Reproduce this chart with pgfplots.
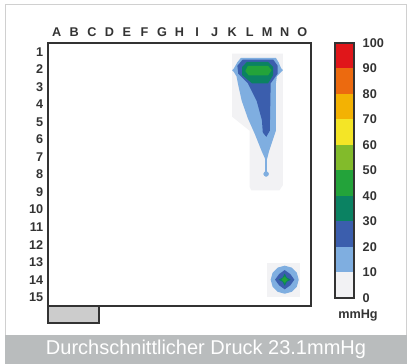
\documentclass[border=0pt]{standalone}
\usepackage{pgfplots}
\pgfplotsset{compat=1.18}
\usepackage{fontspec}
\setmainfont{Liberation Sans}

\definecolor{c0}{HTML}{F2F2F4}
\definecolor{c1}{HTML}{7FAEE0}
\definecolor{c2}{HTML}{3B5EAD}
\definecolor{c3}{HTML}{0B8262}
\definecolor{c4}{HTML}{23A33A}
\definecolor{c5}{HTML}{82BB2B}
\definecolor{c6}{HTML}{F4E526}
\definecolor{c7}{HTML}{F3B203}
\definecolor{c8}{HTML}{EC6A0F}
\definecolor{c9}{HTML}{E0161A}
\definecolor{labelgray}{HTML}{333333}
\definecolor{framegray}{HTML}{D0D0D0}
\definecolor{bandgray}{HTML}{B9BCBD}

\pgfplotsset{
  mapfont/.style={font=\fontsize{9.5}{11}\selectfont\bfseries, text=labelgray},
}

\begin{document}
\begin{tikzpicture}[x=0.75pt,y=0.75pt]
\path[use as bounding box, fill=white] (0,0) rectangle (407,364);
% frame and footer band
\draw[framegray, line width=0.75pt] (5,29) -- (5,359) -- (406,359) -- (406,29);
\fill[bandgray] (5,0) rectangle (407,29);
\node[text=white, font=\fontsize{15}{18}\selectfont] at (206,15) {Durchschnittlicher Druck 23.1mmHg};

% pressure map
\begin{axis}[
  at={(36pt,43.5pt)}, anchor=south west,
  scale only axis, width=197.25pt, height=197.25pt,
  xmin=0, xmax=15, ymin=0, ymax=15, y dir=reverse,
  axis on top,
  axis line style={draw=labelgray, line width=1.1pt},
  xtick={0.5,1.5,...,14.5},
  xticklabels={A,B,C,D,E,F,G,H,I,J,K,L,M,N,O},
  ytick={0.5,1.5,...,14.5},
  yticklabels={1,2,3,4,5,6,7,8,9,10,11,12,13,14,15},
  xticklabel pos=upper,
  major tick length=0pt,
  ticklabel style={mapfont},
  xticklabel style={yshift=1.5pt},
  /pgf/number format/assume math mode=true,
]
% heel, 0-10 mmHg
\addplot[fill=c0, draw=none] coordinates {
  (10.5,0.6) (13.4,0.6) (13.4,8.1) (13.2,8.4) (11.6,8.4) (11.5,8.2)
  (11.5,5.0) (11.0,4.6) (10.5,4.2)} -- cycle;
% forefoot, 0-10 mmHg
\addplot[fill=c0, draw=none] coordinates {
  (12.5,12.55) (14.4,12.55) (14.4,14.5) (12.5,14.5)} -- cycle;
% heel, 10-20 mmHg
\addplot[fill=c1, draw=none] coordinates {
  (11.0,0.85) (13.0,0.85) (13.15,1.1) (13.3,1.45) (13.4,1.55) (13.3,1.65)
  (13.05,1.9) (13.0,2.3) (13.0,5.0) (12.8,5.6) (12.6,6.2) (12.5,6.6)
  (12.38,6.6) (12.2,6.2) (11.8,5.2) (11.4,4.3) (11.05,3.3) (10.85,2.4)
  (10.75,1.9) (10.6,1.65) (10.5,1.55) (10.6,1.45) (10.8,1.1)} -- cycle;
\addplot[c1, line width=1pt] coordinates {(12.44,6.5) (12.44,7.4)};
\addplot[only marks, mark=*, mark size=1.8pt, c1] coordinates {(12.44,7.47)};
% heel, 20-30 mmHg
\addplot[fill=c2, draw=none] coordinates {
  (11.1,0.95) (12.85,0.95) (13.1,1.3) (13.1,1.75) (12.7,2.3) (12.65,5.0)
  (12.45,5.35) (12.25,5.1) (12.2,4.4) (11.9,3.3) (11.4,2.3) (10.85,1.75)
  (10.8,1.3)} -- cycle;
% heel, 30-40 mmHg
\addplot[fill=c3, draw=none] coordinates {
  (11.35,1.08) (12.55,1.08) (12.84,1.37) (12.84,1.83) (12.55,2.3)
  (11.64,2.3) (11.07,1.83) (11.07,1.37)} -- cycle;
% heel, 40-50 mmHg
\addplot[fill=c4, draw=none] coordinates {
  (11.4,1.3) (12.55,1.3) (12.75,1.55) (12.55,1.85) (11.45,1.85) (11.25,1.6)} -- cycle;
% forefoot bands
\addplot[fill=c1, draw=none] coordinates {
  (14.30,13.50) (14.19,13.90) (13.90,14.19) (13.50,14.30) (13.10,14.19)
  (12.81,13.90) (12.70,13.50) (12.81,13.10) (13.10,12.81) (13.50,12.70)
  (13.90,12.81) (14.19,13.10)} -- cycle;
\addplot[fill=c2, draw=none] coordinates {
  (14.05,13.5) (13.82,13.82) (13.5,14.05) (13.18,13.82) (12.95,13.5)
  (13.18,13.18) (13.5,12.95) (13.82,13.18)} -- cycle;
\addplot[fill=c3, draw=none] coordinates {
  (13.85,13.5) (13.62,13.62) (13.5,13.85) (13.38,13.62) (13.15,13.5)
  (13.38,13.38) (13.5,13.15) (13.62,13.38)} -- cycle;
\addplot[fill=c4, draw=none] coordinates {
  (13.68,13.5) (13.5,13.68) (13.32,13.5) (13.5,13.32)} -- cycle;
\end{axis}

% small marker box below the map
\draw[fill=gray!40, draw=labelgray, line width=1pt] (48,41) rectangle (99,58);

% colour scale
\begin{axis}[
  at={(251.25pt,49.5pt)}, anchor=south west,
  scale only axis, width=14.25pt, height=191.25pt,
  xmin=0, xmax=1, ymin=0, ymax=100,
  axis on top,
  axis line style={draw=labelgray, line width=1.1pt},
  xtick=\empty,
  ytick={0,10,...,100},
  yticklabel pos=right,
  major tick length=0pt,
  ticklabel style={mapfont},
  yticklabel style={anchor=west, xshift=3pt},
  /pgf/number format/assume math mode=true,
]
\addplot[fill=c0, draw=none] coordinates {(0,0) (1,0) (1,10) (0,10)} -- cycle;
\addplot[fill=c1, draw=none] coordinates {(0,10) (1,10) (1,20) (0,20)} -- cycle;
\addplot[fill=c2, draw=none] coordinates {(0,20) (1,20) (1,30) (0,30)} -- cycle;
\addplot[fill=c3, draw=none] coordinates {(0,30) (1,30) (1,40) (0,40)} -- cycle;
\addplot[fill=c4, draw=none] coordinates {(0,40) (1,40) (1,50) (0,50)} -- cycle;
\addplot[fill=c5, draw=none] coordinates {(0,50) (1,50) (1,60) (0,60)} -- cycle;
\addplot[fill=c6, draw=none] coordinates {(0,60) (1,60) (1,70) (0,70)} -- cycle;
\addplot[fill=c7, draw=none] coordinates {(0,70) (1,70) (1,80) (0,80)} -- cycle;
\addplot[fill=c8, draw=none] coordinates {(0,80) (1,80) (1,90) (0,90)} -- cycle;
\addplot[fill=c9, draw=none] coordinates {(0,90) (1,90) (1,100) (0,100)} -- cycle;
\end{axis}
\node[font=\fontsize{9.5}{11}\selectfont\bfseries, text=labelgray] at (358,49) {mmHg};
\end{tikzpicture}
\end{document}
